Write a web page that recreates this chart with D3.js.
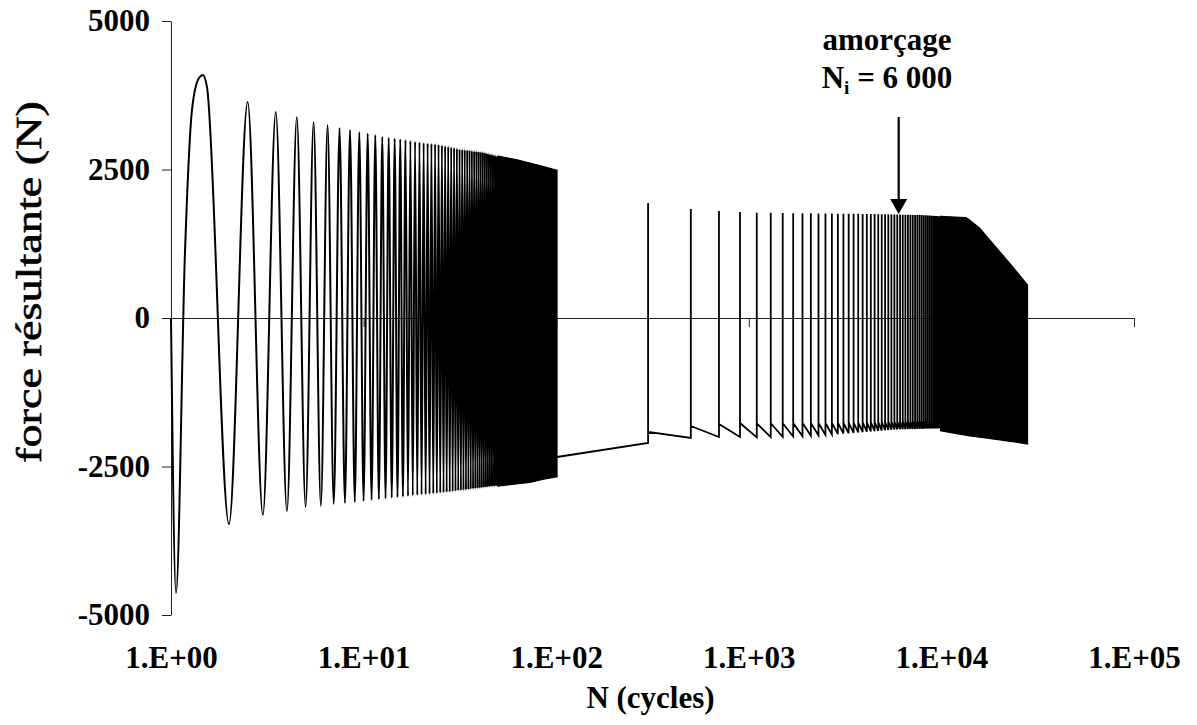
<!DOCTYPE html>
<html><head><meta charset="utf-8">
<script src="https://cdn.jsdelivr.net/npm/d3@7"></script>
<style>
body{margin:0;background:#fff}
svg{display:block}
text{font-family:"Liberation Serif","Times New Roman",serif;font-weight:bold;fill:#000}
</style>
</head><body>
<svg id="chart" width="1197" height="725"></svg>
<script>
// ---------- axis ticks ----------
const xTickValues = [1, 10, 100, 1000, 10000, 100000];
const xTickLabels = ["1.E+00", "1.E+01", "1.E+02", "1.E+03", "1.E+04", "1.E+05"];
const yTickValues = [-5000, -2500, 0, 2500, 5000];
const yTickLabels = ["-5000", "-2500", "0", "2500", "5000"];

// ---------- block 1 : first loading cycles (N = 1 .. 101) ----------
const firstCycleN = [1, 1.062, 1.182, 1.285, 1.397, 1.465, 1.537];
const firstCycleF = [0, -4630, 1111, 3500, 4040, 4090, 3890];
// cycles 2..50 : valley at N = k, peak at N = k + 0.5
const b1Cycles = d3.range(2, 51);
const b1Valleys = [-3470, -3315, -3250, -3180, -3165, -3130, -3115, -3100, -3080, -3065,
  -3050, -3038, -3027, -3017, -3008, -2999, -2990, -2982, -2975, -2970,
  -2965, -2958, -2952, -2945, -2940, -2934, -2928, -2922, -2915, -2910,
  -2905, -2900, -2895, -2890, -2885, -2880, -2875, -2870, -2865, -2861,
  -2857, -2853, -2849, -2845, -2841, -2838, -2835, -2831, -2828];
const b1Peaks = [3635, 3470, 3385, 3300, 3250, 3200, 3165, 3130, 3105, 3080,
  3050, 3035, 3020, 3010, 2995, 2982, 2968, 2958, 2950, 2942,
  2935, 2929, 2920, 2910, 2900, 2890, 2878, 2867, 2856, 2845,
  2840, 2835, 2830, 2825, 2820, 2815, 2810, 2805, 2800, 2795,
  2787, 2779, 2771, 2763, 2755, 2747, 2739, 2731, 2722];
// dense part of block 1 (envelope)
const b1DenseN = [50, 53, 62, 73, 86, 100, 101];
const b1DenseTop = [2725, 2710, 2665, 2609, 2550, 2491, 2491];
const b1DenseBottom = [-2828, -2818, -2795, -2768, -2715, -2677, -2677];

// ---------- gap ----------
const bridgeN = [101];
const bridgeF = [-2340];

// ---------- block 2 : recorded cycles every 200 (N = 300 .. 9900) ----------
const b2SpikeN = d3.range(300, 10000, 200);
const b2Peaks = [1936, 1835, 1801, 1785, 1773, 1770, 1768, 1765, 1763, 1762,
  1760, 1759, 1758, 1757, 1756, 1755, 1754, 1753, 1752, 1751,
  1750, 1749, 1748, 1747, 1746, 1745, 1744, 1743, 1742, 1741,
  1740, 1739, 1738, 1737, 1736, 1735, 1734, 1733, 1732, 1730,
  1728, 1726, 1724, 1722, 1720, 1718, 1716, 1714, 1712];
const b2Lows = [-2104, -2020, -2003, -2003, -2010, -2005, -2000, -1995, -1990, -1982,
  -1975, -1968, -1960, -1953, -1946, -1940, -1933, -1927, -1921, -1915,
  -1910, -1905, -1900, -1895, -1890, -1886, -1882, -1878, -1874, -1873,
  -1872, -1871, -1870, -1869, -1868, -1867, -1866, -1865, -1864, -1863,
  -1862, -1861, -1860, -1859, -1858, -1857, -1856, -1855, -1854];
const b2Highs = [-1919, -1818, -1785, -1768, -1773, -1772, -1771, -1770, -1769, -1768,
  -1767, -1766, -1765, -1764, -1763, -1762, -1761, -1760, -1758, -1756,
  -1754, -1752, -1750, -1748, -1746, -1745, -1744, -1743, -1742, -1741,
  -1740, -1739, -1738, -1737, -1736, -1735, -1734, -1733, -1732, -1731,
  -1730, -1729, -1728, -1727, -1726, -1725, -1724, -1723, -1722];
// dense part of block 2 (envelope)
const b2DenseN = [9900, 12400, 13400, 14000, 15800, 18450, 23400, 28000];
const b2DenseTop = [1712, 1695, 1690, 1650, 1510, 1258, 864, 556];
const b2DenseBottom = [-1900, -1955, -1972, -1985, -2008, -2035, -2082, -2121];

// ---------- annotation ----------
const annotN = 6000;
const annotF = 1750;
const annotLine1 = "amorçage";
const annotLine2 = ["N", "i", " = 6 000"];

// ================= drawing =================
const svg = d3.select("#chart");
const FS = 31;
const x = d3.scaleLog().domain([1, 1e5]).range([171, 1134]);
const y = d3.scaleLinear().domain([-5000, 5000]).range([615, 21]);

// y axis
const gy = svg.append("g").attr("transform", `translate(${x(1)},0)`)
  .call(d3.axisLeft(y).tickValues(yTickValues).tickSize(9).tickSizeOuter(0).tickPadding(12)
    .tickFormat((d, i) => yTickLabels[i]));
gy.selectAll("text").style("font-size", FS + "px");

// x axis through zero (ticks only)
const gx = svg.append("g").attr("transform", `translate(0,${y(0)})`)
  .call(d3.axisBottom(x).tickValues(xTickValues).tickSize(9).tickSizeOuter(0).tickFormat(""));

// x tick labels at bottom
const gxl = svg.append("g").attr("transform", `translate(0,${y(-5000) + 31})`)
  .call(d3.axisBottom(x).tickValues(xTickValues).tickSize(0).tickPadding(0)
    .tickFormat((d, i) => xTickLabels[i]));
gxl.select(".domain").remove();
gxl.selectAll("text").style("font-size", FS + "px");

svg.selectAll(".domain, .tick line").attr("stroke", "#222").attr("stroke-width", 1);

// axis titles
svg.append("text").attr("x", (x(1) + x(1e5)) / 2 - 2).attr("y", 708)
  .attr("text-anchor", "middle").style("font-size", FS + "px").text("N (cycles)");
svg.append("text").attr("transform", `translate(41,282) rotate(-90)`)
  .attr("text-anchor", "middle").style("font-size", "36px")
  .attr("textLength", 362).attr("lengthAdjust", "spacingAndGlyphs")
  .style("font-weight", "normal").style("stroke", "#000").style("stroke-width", 0.6)
  .text("force résultante (N)");

// ---------- series ----------
const line = d3.line().x(d => x(d[0])).y(d => y(d[1]));
const curve = d3.line().x(d => x(d[0])).y(d => y(d[1])).curve(d3.curveMonotoneX);
const area = d3.area().x(d => x(d[0])).y0(d => y(d[1])).y1(d => y(d[2]));

// block 1 lines
const b1Pts = firstCycleN.map((n, i) => [n, firstCycleF[i]]);
b1Cycles.forEach((k, i) => { b1Pts.push([k, b1Valleys[i]]); b1Pts.push([k + 0.5, b1Peaks[i]]); });
svg.append("path").attr("d", curve(b1Pts)).attr("fill", "none")
  .attr("stroke", "#000").attr("stroke-width", 2);

// block 1 dense band
svg.append("path").attr("d", area(b1DenseN.map((n, i) => [n, b1DenseBottom[i], b1DenseTop[i]])))
  .attr("fill", "#000").attr("stroke", "#000").attr("stroke-width", 1.2);

// gap + block 2 sawtooth
const b2Pts = bridgeN.map((n, i) => [n, bridgeF[i]]);
b2SpikeN.forEach((n, i) => {
  b2Pts.push([n, b2Lows[i]]); b2Pts.push([n, b2Peaks[i]]); b2Pts.push([n, b2Highs[i]]);
});
svg.append("path").attr("d", line(b2Pts)).attr("fill", "none")
  .attr("stroke", "#000").attr("stroke-width", 1.8);

// block 2 dense band
svg.append("path").attr("d", area(b2DenseN.map((n, i) => [n, b2DenseBottom[i], b2DenseTop[i]])))
  .attr("fill", "#000").attr("stroke", "#000").attr("stroke-width", 1.2);

// ---------- annotation ----------
const ax = x(annotN);
const tipY = y(annotF);
svg.append("line").attr("x1", ax).attr("x2", ax).attr("y1", 117).attr("y2", tipY - 14)
  .attr("stroke", "#000").attr("stroke-width", 2.2);
svg.append("path").attr("d", `M${ax - 8.5},${tipY - 15}L${ax + 8.5},${tipY - 15}L${ax},${tipY}Z`)
  .attr("fill", "#000");
svg.append("text").attr("x", 887).attr("y", 50).attr("text-anchor", "middle")
  .style("font-size", FS + "px").text(annotLine1);
const t2 = svg.append("text").attr("x", 887).attr("y", 88).attr("text-anchor", "middle")
  .style("font-size", FS + "px");
t2.append("tspan").text(annotLine2[0]);
t2.append("tspan").attr("dy", 6).style("font-size", (FS * 0.62) + "px").text(annotLine2[1]);
t2.append("tspan").attr("dy", -6).text(annotLine2[2]);
</script>
</body></html>
